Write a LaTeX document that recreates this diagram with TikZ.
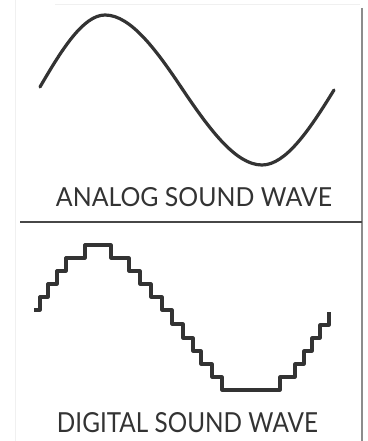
\documentclass[tikz,border=0pt]{standalone}
\usepackage{graphicx}
\usepackage{fontspec}
\setmainfont{Lato}
\definecolor{ink}{HTML}{333333}
\tikzset{
  wave/.style={draw=ink, line width=3.2pt, line join=round, line cap=round},
  label/.style={inner sep=0pt, text=ink},
  rule/.style={draw=ink!90, line width=1.6pt},
  frame/.style={draw=black!45, line width=2pt},
  faint/.style={draw=black!6, line width=1pt}
}
\begin{document}
\begin{tikzpicture}[x=1pt,y=-1pt]
\useasboundingbox (0,0) rectangle (367,441);
% scan edges
\draw[faint] (15,0) -- (15,441);
\draw[faint] (55,5) -- (360,5);
\draw[frame] (362,8) -- (362,441);
% divider
\draw[rule] (20,222) -- (362,222);
% analog wave
\draw[wave] (40,87) .. controls (61.7,49.6) and (83.3,15) .. (105,15)
  .. controls (131,15) and (157,51) .. (183,90)
  .. controls (209.3,129) and (235.7,165) .. (262,165)
  .. controls (286,165) and (310,129) .. (334,90);
\node[label] (analog) at (194,197.5) {\resizebox{276pt}{19pt}{ANALOG SOUND WAVE}};
% digital wave
\draw[wave, line cap=butt] (34,310) -| (40,297) -| (48,284) -| (57,271) -| (66,258) -| (85,245)
  -| (111,258) -| (129,271) -| (140,284) -| (151,297) -| (162,310) -| (172,324)
  -| (183,338) -| (193,351) -| (201,364) -| (212,377) -| (222,390)
  -| (280,377) -| (295,364) -| (304,351) -| (312,338) -| (320,325) -| (329,312);
\node[label] (digital) at (187.5,423) {\resizebox{261pt}{20pt}{DIGITAL SOUND WAVE}};
\end{tikzpicture}
\end{document}
